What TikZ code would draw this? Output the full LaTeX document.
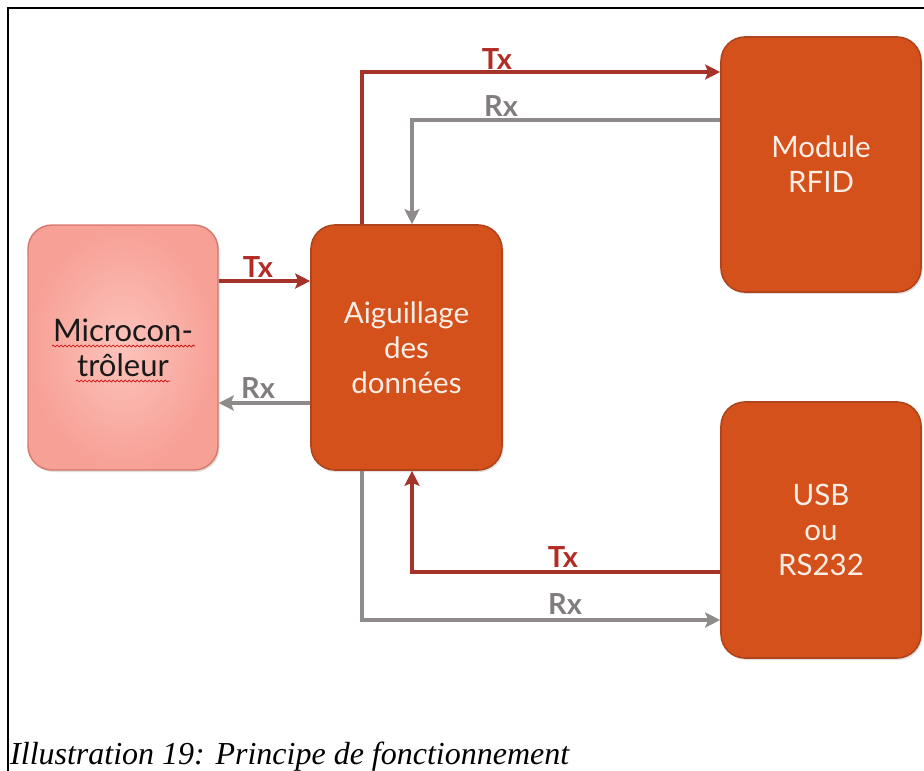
\documentclass[tikz,border=0pt]{standalone}
\usepackage{fontspec}
\setmainfont{Lato}
\newfontfamily\capfont{Liberation Serif}
\usetikzlibrary{arrows.meta,shadows,decorations.pathmorphing}

\definecolor{orangefill}{HTML}{D5511B}
\definecolor{orangeedge}{HTML}{B0441C}
\definecolor{pinkout}{HTML}{F7A096}
\definecolor{pinkin}{HTML}{FCC3BB}
\definecolor{pinkedge}{HTML}{D6786C}
\definecolor{txred}{HTML}{A5332A}
\definecolor{rxgray}{HTML}{8F8B8B}
\definecolor{boxtext}{HTML}{FBEEE6}

\tikzset{
  blk/.style={rectangle, rounded corners=24pt, draw=orangeedge, line width=1.6pt,
    fill=orangefill, text=boxtext, align=center,
    font=\fontsize{29.5}{35}\selectfont,
    drop shadow={shadow xshift=1.5pt, shadow yshift=-2pt, opacity=0.25}},
  mcubox/.style={rectangle, rounded corners=24pt, draw=pinkedge, line width=1.4pt,
    inner color=pinkin, outer color=pinkout, text=black!90, align=center,
    font=\fontsize{31}{35}\selectfont,
    minimum width=190pt, minimum height=245pt,
    drop shadow={shadow xshift=1.5pt, shadow yshift=-2pt, opacity=0.25}},
  tx/.style={draw=txred, line width=3.6pt,
    -{Stealth[length=15pt, width=15pt, inset=3pt]}},
  rx/.style={draw=rxgray, line width=3.6pt,
    -{Stealth[length=15pt, width=15pt, inset=3pt]}},
  txlbl/.style={text=txred!85!red, font=\bfseries\fontsize{29}{29}\selectfont},
  rxlbl/.style={text=rxgray!90!black, font=\bfseries\fontsize{29}{29}\selectfont},
  spell/.style={draw=red!80!black, line width=0.7pt,
    decorate, decoration={snake, amplitude=1pt, segment length=4pt}}
}

\begin{document}
\begin{tikzpicture}[x=1pt, y=-1pt]
  \useasboundingbox[fill=white] (0,0) rectangle (924,771);

  % page frame
  \draw[line width=1.3pt] (8,771) -- (8,8) -- (924,8);

  % blocks
  \node[mcubox] (mcu) at (123,347.5) {Microcon-\\trôleur};
  \node[blk, minimum width=191pt, minimum height=245pt] (sw) at (406.5,347.5)
    {Aiguillage\\des\\données};
  \node[blk, minimum width=200pt, minimum height=255pt] (rfid) at (821,164.5)
    {Module\\RFID};
  \node[blk, minimum width=200pt, minimum height=256pt] (usb) at (821,530)
    {USB\\ou\\RS232};

  % spelling marks under the microcontroller label
  \draw[spell] (52,346) -- (195,346);
  \draw[spell] (76,381) -- (170,381);

  % links to the RFID module
  \draw[tx] ([xshift=-44.5pt]sw.north) |- ([yshift=92.5pt]rfid.west);
  \draw[rx] ([yshift=44.5pt]rfid.west) -| ([xshift=5.5pt]sw.north);

  % links to the microcontroller
  \draw[tx] ([yshift=66.5pt]mcu.east) -- ([yshift=66.5pt]sw.west);
  \draw[rx] ([yshift=-55.5pt]sw.west) -- ([yshift=-55.5pt]mcu.east);

  % links to the USB / RS232 port
  \draw[tx] ([yshift=-42pt]usb.west) -| ([xshift=5.5pt]sw.south);
  \draw[rx] ([xshift=-44.5pt]sw.south) |- ([yshift=-90pt]usb.west);

  % line labels
  \node[txlbl] (t1) at (497,59) {Tx};
  \node[rxlbl] (r1) at (501,106) {Rx};
  \node[txlbl] (t2) at (258,267) {Tx};
  \node[rxlbl] (r2) at (258,388) {Rx};
  \node[txlbl] (t3) at (563,557) {Tx};
  \node[rxlbl] (r3) at (565,604) {Rx};

  % caption
  \node[anchor=base west, inner sep=0pt, font=\capfont\itshape\fontsize{32}{32}\selectfont]
    (cap) at (10,764) {Illustration 19: Principe de fonctionnement};
\end{tikzpicture}
\end{document}
